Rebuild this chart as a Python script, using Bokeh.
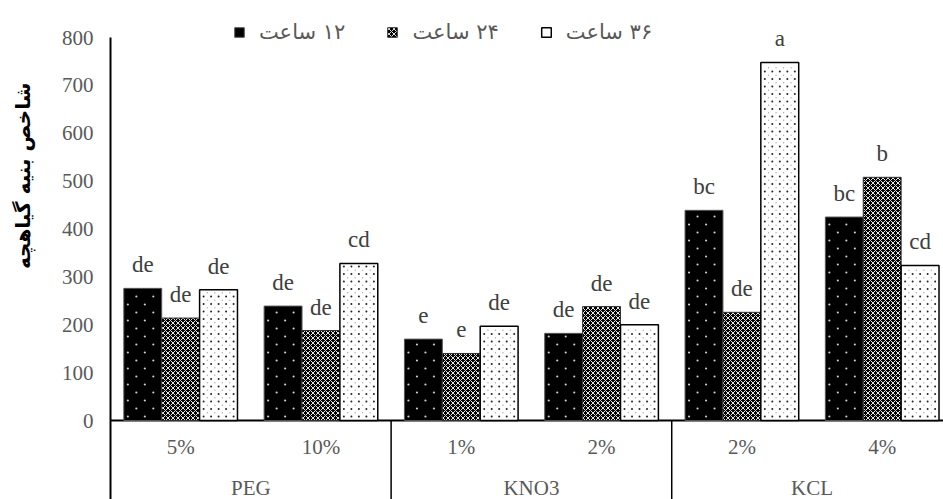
import math
from bokeh.plotting import figure
from bokeh.models import Range1d, Legend, LegendItem, LabelSet, ColumnDataSource
from bokeh.core.properties import value
from bokeh.embed import file_html
from bokeh.resources import INLINE

# ---- data ----
groups = ["PEG", "KNO3", "KCL"]
levels = ["5%", "10%", "1%", "2%", "2%", "4%"]
group_sizes = [2, 2, 2]
series_names = ["\u200f۱۲ ساعت", "\u200f۲۴ ساعت", "\u200f۳۶ ساعت"]
v12 = [276, 239, 170, 182, 439, 425]
v24 = [214, 188, 140, 238, 226, 508]
v36 = [273, 328, 197, 200, 748, 324]
let12 = ["de", "de", "e", "de", "bc", "bc"]
let24 = ["de", "de", "e", "de", "de", "b"]
let36 = ["de", "cd", "de", "de", "a", "cd"]
y_ticks = [0, 100, 200, 300, 400, 500, 600, 700, 800]
y_title = "شاخص بنیه گیاهچه"

SERIF = "Liberation Serif"
GRAY = "#595959"

W, H = 943, 499
X0, X1 = -0.784, 5.937
Y0, Y1 = -165.0, 877.3
PX_X = W / (X1 - X0)
PX_Y = H / (Y1 - Y0)

p = figure(width=W, height=H, output_backend="svg", toolbar_location=None,
           x_range=Range1d(X0, X1), y_range=Range1d(Y0, Y1),
           min_border_left=0, min_border_right=0, min_border_top=0,
           min_border_bottom=0)
p.xaxis.visible = False
p.yaxis.visible = False
p.xgrid.visible = False
p.ygrid.visible = False
p.outline_line_color = None
p.background_fill_color = "white"
p.border_fill_color = "white"

# y axis line, baseline
p.segment(x0=[0], y0=[Y0], x1=[0], y1=[max(y_ticks)], line_color="black", line_width=2)
p.segment(x0=[0], y0=[0], x1=[X1], y1=[0], line_color="black", line_width=2)

# y tick labels
p.text(x=[0] * len(y_ticks), y=y_ticks, text=[str(t) for t in y_ticks],
       x_offset=-17, text_align="right", text_baseline="middle",
       text_font=value(SERIF), text_font_size="21px", text_color=GRAY)

# y title
p.text(x=[-0.627], y=[511], text=[y_title], angle=math.pi / 2,
       text_align="center", text_baseline="middle",
       text_font=value("DejaVu Sans"), text_font_size="20px",
       text_font_style="bold", text_color="black")

n = len(levels)
centers = [i + 0.5 for i in range(n)]
bw = 0.27
offsets = [-bw, 0.0, bw]
vals = [v12, v24, v36]
lets = [let12, let24, let36]


def dot_grid(xc, tops, step_x, step_y, x0px, y0px, stagger):
    """Pattern dot positions inside bars (screen-px spacing -> data units)."""
    xs, ys = [], []
    bw_px = bw * PX_X
    for c, t in zip(xc, tops):
        left = c - bw / 2
        top_px = t * PX_Y
        r = 0
        yp = y0px
        while yp < top_px - 2:
            xp = x0px + (step_x / 2 if (stagger and r % 2) else 0)
            while xp < bw_px - 1.5:
                xs.append(left + xp / PX_X)
                ys.append(yp / PX_Y)
                xp += step_x
            yp += step_y
            r += 1
    return xs, ys


bar_styles = [
    dict(fill_color="black", line_color="#555555", line_width=1),
    dict(fill_color="black", hatch_pattern="diagonal_cross", hatch_color="#e6e6e6",
         hatch_scale=5, hatch_weight=1, line_color="#333333", line_width=1),
    dict(fill_color="white", line_color="black", line_width=1.5),
]

items = []
for k in range(3):
    xs = [c + offsets[k] for c in centers]
    src = ColumnDataSource(dict(x=xs, top=vals[k], lab=lets[k]))
    r = p.vbar(x="x", top="top", bottom=0, width=bw, source=src, **bar_styles[k])
    if k == 0:
        dx, dy = dot_grid(xs, vals[k], 17, 8, 4, 4, True)
        p.scatter(dx, dy, marker="circle", size=2.2,
                  fill_color="#cfcfcf", line_color=None)
    elif k == 2:
        dx, dy = dot_grid(xs, vals[k], 7.5, 7.5, 4, 4, False)
        p.scatter(dx, dy, marker="circle", size=2.0,
                  fill_color="#222222", line_color=None)
        gx, gy = dot_grid(xs, vals[k], 7.5, 7.5, 7.75, 7.75, False)
        p.scatter(gx, gy, marker="circle", size=1.4,
                  fill_color="#aaaaaa", line_color=None)
    items.append(LegendItem(label=series_names[k], renderers=[r]))
    ls = LabelSet(x="x", y="top", text="lab", source=src, text_align="center",
                  text_baseline="alphabetic", y_offset=16,
                  text_font=value(SERIF), text_font_size="23px",
                  text_color="#404040")
    p.add_layout(ls)

# group separators and labels
bounds = [0]
for s in group_sizes:
    bounds.append(bounds[-1] + s)
sep_x = bounds[1:-1]
p.segment(x0=sep_x, y0=[0] * len(sep_x), x1=sep_x, y1=[Y0] * len(sep_x),
          line_color="black", line_width=1.5)

p.text(x=centers, y=[-56] * n, text=levels, text_align="center",
       text_baseline="middle", text_font=value(SERIF), text_font_size="21px",
       text_color=GRAY)
gcent = [(bounds[i] + bounds[i + 1]) / 2 for i in range(len(groups))]
p.text(x=gcent, y=[-140] * len(groups), text=groups, text_align="center",
       text_baseline="middle", text_font=value(SERIF), text_font_size="21px",
       text_color=GRAY)

legend = Legend(items=items, orientation="horizontal", location=(233, 455),
                glyph_width=12, glyph_height=12, label_standoff=14, spacing=41,
                padding=0, margin=0, border_line_alpha=0, background_fill_alpha=0,
                label_text_font="DejaVu Sans", label_text_font_size="21px",
                label_text_color=GRAY)
p.add_layout(legend, "center")

open("out.html", "w").write(file_html(p, INLINE))
